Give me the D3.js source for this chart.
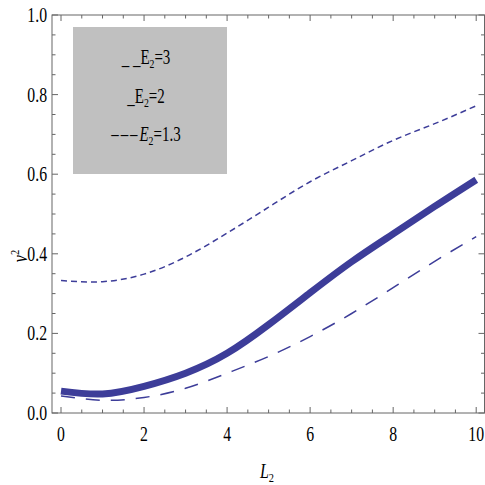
<!DOCTYPE html>
<html lang="en">
<head>
<meta charset="utf-8">
<title>nu squared vs L2</title>
<script src="https://d3js.org/d3.v7.min.js"></script>
<style>
  body { margin: 0; background: #fff; }
  svg { display: block; }
  text { font-family: "Liberation Serif", "DejaVu Serif", serif; fill: #000; }
</style>
</head>
<body>
<svg id="chart" width="485" height="485"></svg>
<script>
// values
const L2 = [0, 1, 2, 3, 4, 5, 6, 7, 8, 9, 10];
const nuE3 = [0.043, 0.032, 0.039, 0.062, 0.100, 0.142, 0.192, 0.250, 0.315, 0.381, 0.443];
const nuE2 = [0.055, 0.048, 0.067, 0.100, 0.150, 0.222, 0.302, 0.380, 0.450, 0.519, 0.586];
const nuE13 = [0.333, 0.330, 0.349, 0.392, 0.452, 0.517, 0.581, 0.634, 0.685, 0.727, 0.772];
const xTicks = [0, 2, 4, 6, 8, 10];
const yTicks = [0, 0.2, 0.4, 0.6, 0.8, 1.0];

const svg = d3.select("#chart");
const pLeft = 52, pRight = 484.5, pTop = 15, pBottom = 413;

const x = d3.scaleLinear().domain([-0.217, 10.2]).range([pLeft, pRight]);
const y = d3.scaleLinear().domain([0, 1]).range([pBottom, pTop]);

const lineCol = "#3d3d99";
const frameCol = "#666";

// frame
svg.append("rect")
   .attr("x", pLeft).attr("y", pTop)
   .attr("width", pRight - pLeft).attr("height", pBottom - pTop)
   .attr("fill", "none").attr("stroke", frameCol).attr("stroke-width", 1);

// ticks (inward, on all four sides)
const xMinor = d3.range(0, 10.01, 0.5).filter(v => !xTicks.includes(v));
const yMinor = d3.range(0, 1.001, 0.05).map(v => +v.toFixed(2)).filter(v => !yTicks.includes(v));

function tickSet(vals, len) {
  vals.forEach(v => {
    svg.append("line").attr("x1", x(v)).attr("x2", x(v)).attr("y1", pBottom).attr("y2", pBottom - len)
       .attr("stroke", frameCol);
    svg.append("line").attr("x1", x(v)).attr("x2", x(v)).attr("y1", pTop).attr("y2", pTop + len)
       .attr("stroke", frameCol);
  });
}
function tickSetY(vals, len) {
  vals.forEach(v => {
    svg.append("line").attr("y1", y(v)).attr("y2", y(v)).attr("x1", pLeft).attr("x2", pLeft + len)
       .attr("stroke", frameCol);
    svg.append("line").attr("y1", y(v)).attr("y2", y(v)).attr("x1", pRight).attr("x2", pRight - len)
       .attr("stroke", frameCol);
  });
}
tickSet(xTicks, 6);
tickSet(xMinor, 3.5);
tickSetY(yTicks, 6);
tickSetY(yMinor, 3.5);

// tick labels (narrow, like the original)
xTicks.forEach(v => {
  svg.append("text")
     .attr("transform", "translate(" + x(v) + ",441) scale(0.75,1)")
     .attr("text-anchor", "middle")
     .attr("font-size", 21)
     .text(v);
});
yTicks.forEach(v => {
  svg.append("text")
     .attr("transform", "translate(47," + (y(v) + 7) + ") scale(0.75,1)")
     .attr("text-anchor", "end")
     .attr("font-size", 21)
     .text(v.toFixed(1));
});

// axis labels
const xl = svg.append("text")
   .attr("transform", "translate(267,478) scale(0.8,1)")
   .attr("text-anchor", "middle")
   .attr("font-size", 20)
   .attr("font-style", "italic");
xl.append("tspan").text("L");
xl.append("tspan").attr("font-size", 13).attr("dy", 4).attr("font-style", "normal").text("2");

const yl = svg.append("text")
   .attr("transform", "translate(27,256) rotate(-90) scale(0.8,1)")
   .attr("text-anchor", "middle")
   .attr("font-size", 20)
   .attr("font-style", "italic");
yl.append("tspan").text("ν");
yl.append("tspan").attr("font-size", 13).attr("dy", -8).attr("font-style", "normal").text("2");

// curves
const line = (vals) => d3.line()
  .x((d, i) => x(L2[i]))
  .y(d => y(d))
  .curve(d3.curveNatural)(vals);

svg.append("path").attr("d", line(nuE13))
   .attr("fill", "none").attr("stroke", lineCol).attr("stroke-width", 1.5)
   .attr("stroke-dasharray", "6,4");
svg.append("path").attr("d", line(nuE3))
   .attr("fill", "none").attr("stroke", lineCol).attr("stroke-width", 1.5)
   .attr("stroke-dasharray", "14,11");
svg.append("path").attr("d", line(nuE2))
   .attr("fill", "none").attr("stroke", lineCol).attr("stroke-width", 7);

// legend box
svg.append("rect")
   .attr("x", 73).attr("y", 27).attr("width", 154).attr("height", 147)
   .attr("fill", "#c0c0c0");

const legendItems = [
  { pre: "_ _", italic: false, val: "=3", y: 64 },
  { pre: "_", italic: false, val: "=2", y: 103 },
  { pre: "–––", italic: true, val: "=1.3", y: 141 }
];
legendItems.forEach(d => {
  const t = svg.append("text")
     .attr("transform", "translate(146," + d.y + ") scale(0.75,1)")
     .attr("text-anchor", "middle")
     .attr("font-size", 20);
  t.append("tspan").attr("letter-spacing", d.italic ? 2.5 : 0).text(d.pre);
  t.append("tspan").attr("font-style", d.italic ? "italic" : "normal").text("E");
  t.append("tspan").attr("font-size", 13).attr("dy", 4).text("2");
  t.append("tspan").attr("dy", -4).text(d.val);
});
</script>
</body>
</html>
